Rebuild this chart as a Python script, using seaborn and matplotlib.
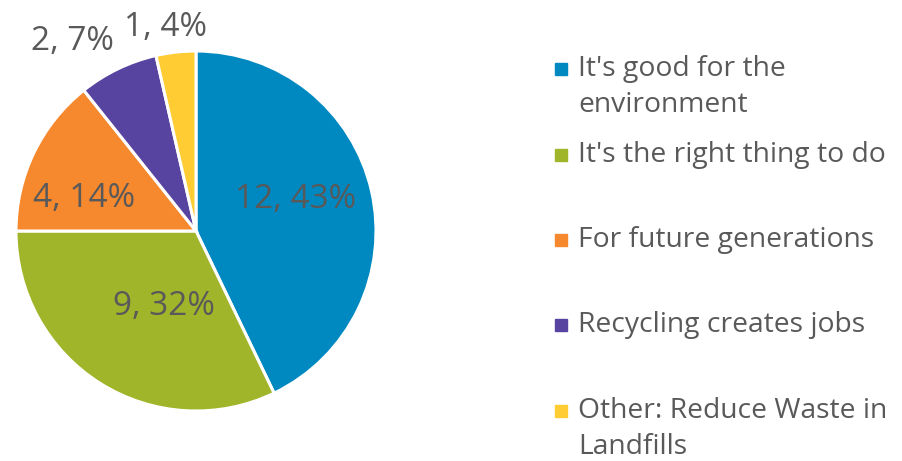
import matplotlib
matplotlib.use("Agg")
import matplotlib.pyplot as plt
import seaborn as sns
from matplotlib.patches import Rectangle

sns.set_theme(style="white")
plt.rcParams['font.family'] = ['Open Sans', 'DejaVu Sans']

categories = ["It's good for the\nenvironment", "It's the right thing to do",
              "For future generations", "Recycling creates jobs",
              "Other: Reduce Waste in\nLandfills"]
counts = [12, 9, 4, 2, 1]
colors = ["#0089C1", "#A1B52B", "#F6892E", "#5744A0", "#FFCC33"]

W, H = 902, 461
fig = plt.figure(figsize=(W / 100, H / 100), dpi=100)
cx, cy, R = 196, 231, 180
ax = fig.add_axes([(cx - R) / W, (H - cy - R) / H, 2 * R / W, 2 * R / H])
wedges, _ = ax.pie(counts, colors=colors, startangle=90, counterclock=False,
                   wedgeprops=dict(edgecolor="white", linewidth=2.2), radius=1.0)
ax.set_xlim(-1, 1)
ax.set_ylim(-1, 1)
ax.set_aspect("equal")
ax.axis("off")

total = sum(counts)
label_px = [(296, 200), (164, 306), (84, 198), (72, 42), (166, 28)]
for (px, py), c in zip(label_px, counts):
    txt = f"{c}, {round(c / total * 100)}%"
    ax.text((px - cx) / R, (cy - py) / R, txt, ha="center", va="center",
            fontsize=24, color="#595959", clip_on=False)

# legend
legend_y = [69, 155, 240, 325, 411]
line_gap = 36
for lab, col, y in zip(categories, colors, legend_y):
    fig.patches.append(Rectangle(((555) / W, (H - y - 6) / H), 12 / W, 12 / H,
                                 transform=fig.transFigure, color=col))
    for i, line in enumerate(lab.split("\n")):
        fig.text(578 / W, (H - y - i * line_gap) / H, line, ha="left",
                 va="center", fontsize=20.3, color="#595959")

fig.savefig("out.png", dpi=100)
